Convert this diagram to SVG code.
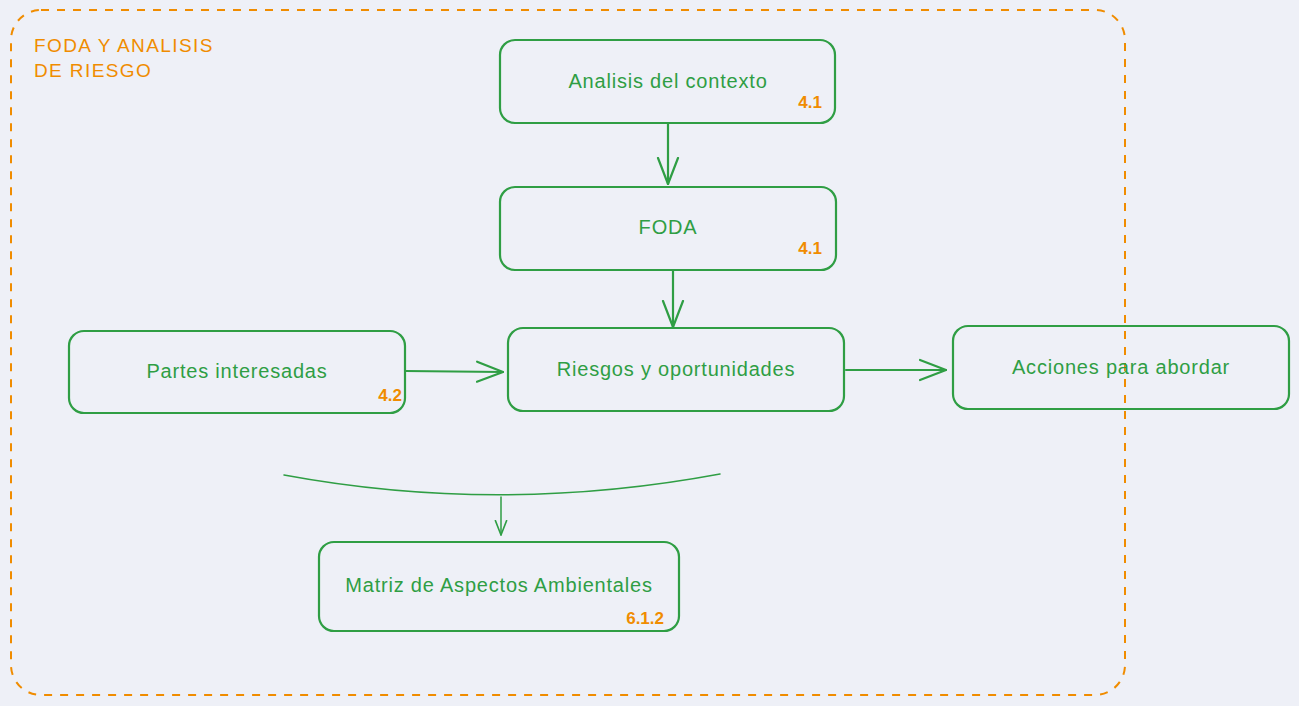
<svg xmlns="http://www.w3.org/2000/svg" width="1299" height="706" viewBox="0 0 1299 706">
<style>
.box{fill:none;stroke:#2f9e44;stroke-width:2.2}
.lbl{font-family:"Liberation Sans",Arial,sans-serif;font-size:20px;letter-spacing:0.8px;fill:#2f9e44;text-anchor:middle}
.num{font-family:"Liberation Sans",Arial,sans-serif;font-size:17px;fill:#f08c00;text-anchor:end;font-weight:bold}
.conn{fill:none;stroke:#2f9e44;stroke-width:2.2;stroke-linecap:round;stroke-linejoin:round}
.title{font-family:"Liberation Sans",Arial,sans-serif;font-size:19px;letter-spacing:1.4px;fill:#f08c00}
</style>
<defs>
<marker id="arr" viewBox="0 0 28 24" refX="27" refY="12" markerWidth="28" markerHeight="24" markerUnits="userSpaceOnUse" orient="auto">
<path d="M1,2 L27,12 L1,22" fill="none" stroke="#2f9e44" stroke-width="2.2" stroke-linecap="round" stroke-linejoin="round"/>
</marker>
<marker id="arrs" viewBox="0 0 20 20" refX="19" refY="10" markerWidth="16" markerHeight="16" markerUnits="userSpaceOnUse" orient="auto">
<path d="M1,3 L19,10 L1,17" fill="none" stroke="#2f9e44" stroke-width="2" stroke-linecap="round" stroke-linejoin="round"/>
</marker>
</defs>
<rect width="1299" height="706" fill="#eef0f7"/>
<g id="container">
<rect x="11" y="10" width="1114" height="685" rx="30" fill="none" stroke="#f08c00" stroke-width="2" stroke-dasharray="8 8"/>
<text class="title" x="34" y="52">FODA Y ANALISIS</text>
<text class="title" x="34" y="77">DE RIESGO</text>
</g>
<g id="connectors">
<path class="conn" d="M668,124 L668,184" marker-end="url(#arr)"/>
<path class="conn" d="M673,271 L673,327" marker-end="url(#arr)"/>
<path class="conn" d="M405,371 L503,372" marker-end="url(#arr)"/>
<path class="conn" d="M846,370 L946,370" marker-end="url(#arr)"/>
<path class="conn" style="stroke-width:1.5" d="M284,475 Q500,515 720,474"/>
<path class="conn" style="stroke-width:1.5" d="M501,497 L501,535" marker-end="url(#arrs)"/>
</g>
<g id="node-analisis">
<rect class="box" x="500" y="40" width="335" height="83" rx="15"/>
<text class="lbl" x="668" y="88">Analisis del contexto</text>
<text class="num" x="822" y="108">4.1</text>
</g>
<g id="node-foda">
<rect class="box" x="500" y="187" width="336" height="83" rx="15"/>
<text class="lbl" x="668" y="234">FODA</text>
<text class="num" x="822" y="254">4.1</text>
</g>
<g id="node-riesgos">
<rect class="box" x="508" y="328" width="336" height="83" rx="15"/>
<text class="lbl" x="676" y="376">Riesgos y oportunidades</text>
</g>
<g id="node-partes">
<rect class="box" x="69" y="331" width="336" height="82" rx="15"/>
<text class="lbl" x="237" y="378">Partes interesadas</text>
<text class="num" x="402" y="401">4.2</text>
</g>
<g id="node-acciones">
<rect class="box" x="953" y="326" width="336" height="83" rx="15"/>
<text class="lbl" x="1121" y="374">Acciones para abordar</text>
</g>
<g id="node-matriz">
<rect class="box" x="319" y="542" width="360" height="89" rx="15"/>
<text class="lbl" x="499" y="592">Matriz de Aspectos Ambientales</text>
<text class="num" x="664" y="624">6.1.2</text>
</g>
</svg>
